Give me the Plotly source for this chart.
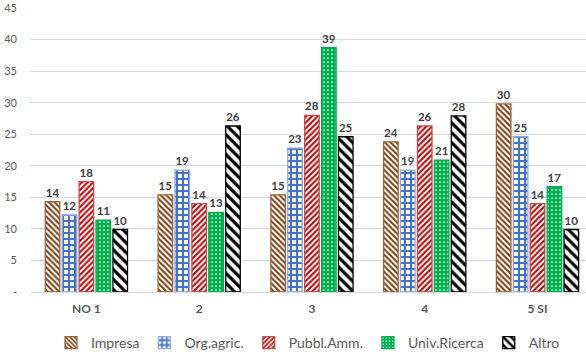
import plotly.graph_objects as go

categories = ["NO 1", "2", "3", "4", "5 SI"]
series_names = ["Impresa", "Org.agric.", "Pubbl.Amm.", "Univ.Ricerca", "Altro"]
impresa = [14.3, 15.4, 15.4, 23.8, 29.8]
org_agric = [12.2, 19.3, 22.8, 19.3, 24.6]
pubbl_amm = [17.5, 14.0, 28.0, 26.3, 14.0]
univ_ricerca = [11.4, 12.6, 38.7, 20.9, 16.7]
altro = [9.9, 26.3, 24.6, 27.9, 9.9]
y_ticks = [0, 5, 10, 15, 20, 25, 30, 35, 40, 45]
y_tick_labels = ["-", "5", "10", "15", "20", "25", "30", "35", "40", "45"]

values = [impresa, org_agric, pubbl_amm, univ_ricerca, altro]
styles = [
    dict(shape="\\", fg="#7B3F12", bg="white", line="#A0643A", size=4, sol=0.5),
    dict(shape="+", fg="#4472C4", bg="white", line="#8EA9DB", size=6, sol=0.6),
    dict(shape="/", fg="#C00000", bg="white", line="#C0504D", size=4, sol=0.5),
    dict(shape=".", fg="white", bg="#00B050", line="#00B050", size=4, sol=0.15),
    dict(shape="\\", fg="black", bg="white", line="black", size=7, sol=0.45),
]

fig = go.Figure()
for name, vals, st in zip(series_names, values, styles):
    fig.add_trace(go.Bar(
        x=categories, y=vals, name=name,
        marker=dict(
            color=st["bg"],
            line=dict(color=st["line"], width=1.3),
            pattern=dict(shape=st["shape"], fgcolor=st["fg"], bgcolor=st["bg"],
                         size=st["size"], solidity=st["sol"], fillmode="replace"),
        ),
        texttemplate="%{y:.0f}", textposition="outside",
        textfont=dict(family="Lato", size=11.5, color="#404040", weight="bold"),
        cliponaxis=False,
    ))

fig.update_layout(
    width=586, height=359,
    margin=dict(l=30, r=0, t=8, b=64),
    paper_bgcolor="white", plot_bgcolor="white",
    barmode="group", bargap=0.25, bargroupgap=0.14,
    font=dict(family="Lato", color="#595959"),
    showlegend=True,
    legend=dict(orientation="h", x=0.5, xanchor="center", y=-0.125, yanchor="top",
                font=dict(size=14, color="#595959"), itemwidth=30,
                traceorder="normal"),
)
fig.update_xaxes(
    range=[-0.5, 4.43], showgrid=False, showline=False, ticks="", automargin=False,
    tickfont=dict(size=12, color="#595959", weight="bold"), ticklabelstandoff=8,
)
fig.update_yaxes(
    range=[0, 45], tickvals=y_ticks, ticktext=y_tick_labels, automargin=False,
    showgrid=True, gridcolor="#D9D9D9", gridwidth=1, zeroline=True,
    zerolinecolor="#D9D9D9", zerolinewidth=1, showline=False,
    tickfont=dict(size=11, color="#595959"), ticklabelstandoff=12,
)

fig.write_html("out.html", config={"displayModeBar": False},
               post_script="document.body.style.margin='0';")
